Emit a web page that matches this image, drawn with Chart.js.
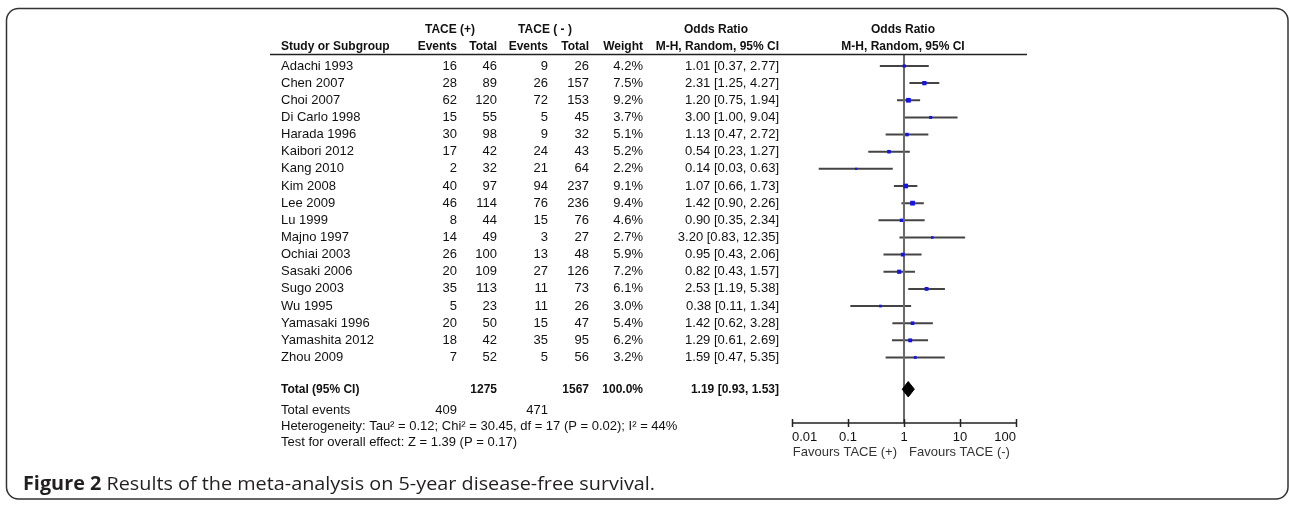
<!DOCTYPE html>
<html>
<head>
<meta charset="utf-8">
<title>Forest plot - 5-year disease-free survival</title>
<script src="https://cdn.jsdelivr.net/npm/chart.js@4.4.1/dist/chart.umd.min.js"></script>
<style>
  html, body { margin: 0; padding: 0; background: #fff; }
  canvas { display: block; }
</style>
</head>
<body>
<canvas id="forest" width="1289" height="505"></canvas>
<script>
// Study rows
const studies = ['Adachi 1993', 'Chen 2007', 'Choi 2007', 'Di Carlo 1998', 'Harada 1996', 'Kaibori 2012',
  'Kang 2010', 'Kim 2008', 'Lee 2009', 'Lu 1999', 'Majno 1997', 'Ochiai 2003', 'Sasaki 2006',
  'Sugo 2003', 'Wu 1995', 'Yamasaki 1996', 'Yamashita 2012', 'Zhou 2009'];
const eventsPlus = [16, 28, 62, 15, 30, 17, 2, 40, 46, 8, 14, 26, 20, 35, 5, 20, 18, 7];
const totalPlus = [46, 89, 120, 55, 98, 42, 32, 97, 114, 44, 49, 100, 109, 113, 23, 50, 42, 52];
const eventsMinus = [9, 26, 72, 5, 9, 24, 21, 94, 76, 15, 3, 13, 27, 11, 11, 15, 35, 5];
const totalMinus = [26, 157, 153, 45, 32, 43, 64, 237, 236, 76, 27, 48, 126, 73, 26, 47, 95, 56];
const weights = [4.2, 7.5, 9.2, 3.7, 5.1, 5.2, 2.2, 9.1, 9.4, 4.6, 2.7, 5.9, 7.2, 6.1, 3.0, 5.4, 6.2, 3.2];
const oddsRatio = [1.01, 2.31, 1.20, 3.00, 1.13, 0.54, 0.14, 1.07, 1.42, 0.90, 3.20, 0.95, 0.82, 2.53, 0.38, 1.42, 1.29, 1.59];
const ciLow = [0.37, 1.25, 0.75, 1.00, 0.47, 0.23, 0.03, 0.66, 0.90, 0.35, 0.83, 0.43, 0.43, 1.19, 0.11, 0.62, 0.61, 0.47];
const ciHigh = [2.77, 4.27, 1.94, 9.04, 2.72, 1.27, 0.63, 1.73, 2.26, 2.34, 12.35, 2.06, 1.57, 5.38, 1.34, 3.28, 2.69, 5.35];

// Pooled result
const pooledTotals = [1275, 1567];
const pooledEvents = [409, 471];
const pooledOR = [1.19, 0.93, 1.53];   // estimate, low, high
const pooledWeight = '100.0%';

// x axis ticks
const tickValues = [0.01, 0.1, 1, 10, 100];
const tickLabels = ['0.01', '0.1', '1', '10', '100'];

const heterogeneityText = 'Heterogeneity: Tau\u00b2 = 0.12; Chi\u00b2 = 30.45, df = 17 (P = 0.02); I\u00b2 = 44%';
const overallText = 'Test for overall effect: Z = 1.39 (P = 0.17)';

// layout (row index space of the y scale)
const TOTAL_ROW = 18.85;
const Y_MIN = -0.64, Y_MAX = 20.82;

const FONT = '"Liberation Sans", Arial, sans-serif';
const fmt = v => v.toFixed(2);

// columns: right edges
const COL = { study: 281, evP: 457, totP: 497, evM: 548, totM: 589, weight: 643, or: 779, orHead: 716, plotHead: 903 };

// CI segments, broken by null points
const ciSegments = [];
studies.forEach((s, i) => {
  ciSegments.push({ x: ciLow[i], y: i }, { x: ciHigh[i], y: i }, { x: null, y: null });
});

const diamond = [
  { x: pooledOR[1], y: TOTAL_ROW },
  { x: pooledOR[0], y: TOTAL_ROW - 0.45 },
  { x: pooledOR[2], y: TOTAL_ROW },
  { x: pooledOR[0], y: TOTAL_ROW + 0.45 },
  { x: pooledOR[1], y: TOTAL_ROW }
];

function txt(ctx, s, x, y, align, bold, size) {
  ctx.font = (bold ? 'bold ' : '') + (size || (bold ? 12 : 13)) + 'px ' + FONT;
  ctx.textAlign = align || 'left';
  ctx.fillText(s, x, y);
}

// Table, axis, frame and caption
const forestText = {
  id: 'forestText',
  afterDraw(chart) {
    const ctx = chart.ctx;
    const xs = chart.scales.x, ys = chart.scales.y;
    const area = chart.chartArea;
    ctx.save();
    ctx.fillStyle = '#111';
    ctx.textBaseline = 'middle';

    // headers
    txt(ctx, 'TACE (+)', 450, 30, 'center', true);
    txt(ctx, 'TACE ( - )', 545, 30, 'center', true);
    txt(ctx, 'Odds Ratio', COL.orHead, 30, 'center', true);
    txt(ctx, 'Odds Ratio', COL.plotHead, 30, 'center', true);
    txt(ctx, 'Study or Subgroup', COL.study, 47, 'left', true);
    txt(ctx, 'Events', COL.evP, 47, 'right', true);
    txt(ctx, 'Total', COL.totP, 47, 'right', true);
    txt(ctx, 'Events', COL.evM, 47, 'right', true);
    txt(ctx, 'Total', COL.totM, 47, 'right', true);
    txt(ctx, 'Weight', COL.weight, 47, 'right', true);
    txt(ctx, 'M-H, Random, 95% CI', COL.or, 47, 'right', true);
    txt(ctx, 'M-H, Random, 95% CI', COL.plotHead, 47, 'center', true);

    ctx.strokeStyle = '#222';
    ctx.lineWidth = 1.5;
    ctx.beginPath();
    ctx.moveTo(270, 54.5);
    ctx.lineTo(1027, 54.5);
    ctx.stroke();

    // study rows
    studies.forEach((s, i) => {
      const y = ys.getPixelForValue(i);
      txt(ctx, s, COL.study, y, 'left');
      txt(ctx, String(eventsPlus[i]), COL.evP, y, 'right');
      txt(ctx, String(totalPlus[i]), COL.totP, y, 'right');
      txt(ctx, String(eventsMinus[i]), COL.evM, y, 'right');
      txt(ctx, String(totalMinus[i]), COL.totM, y, 'right');
      txt(ctx, weights[i].toFixed(1) + '%', COL.weight, y, 'right');
      txt(ctx, fmt(oddsRatio[i]) + ' [' + fmt(ciLow[i]) + ', ' + fmt(ciHigh[i]) + ']', COL.or, y, 'right');
    });

    // pooled rows
    const ty = ys.getPixelForValue(TOTAL_ROW);
    txt(ctx, 'Total (95% CI)', COL.study, ty, 'left', true);
    txt(ctx, String(pooledTotals[0]), COL.totP, ty, 'right', true);
    txt(ctx, String(pooledTotals[1]), COL.totM, ty, 'right', true);
    txt(ctx, pooledWeight, COL.weight, ty, 'right', true);
    txt(ctx, fmt(pooledOR[0]) + ' [' + fmt(pooledOR[1]) + ', ' + fmt(pooledOR[2]) + ']', COL.or, ty, 'right', true);
    txt(ctx, 'Total events', COL.study, 410, 'left');
    txt(ctx, String(pooledEvents[0]), COL.evP, 410, 'right');
    txt(ctx, String(pooledEvents[1]), COL.evM, 410, 'right');
    txt(ctx, heterogeneityText, COL.study, 426.5, 'left');
    txt(ctx, overallText, COL.study, 442.5, 'left');

    // x axis
    const ay = area.bottom;
    ctx.strokeStyle = '#222';
    ctx.lineWidth = 1.5;
    ctx.beginPath();
    ctx.moveTo(xs.getPixelForValue(tickValues[0]), ay);
    ctx.lineTo(xs.getPixelForValue(tickValues[tickValues.length - 1]), ay);
    tickValues.forEach(v => {
      const px = Math.round(xs.getPixelForValue(v)) + 0.5;
      ctx.moveTo(px, ay - 4);
      ctx.lineTo(px, ay + 4);
    });
    ctx.stroke();
    tickValues.forEach((v, i) => {
      const align = i === 0 ? 'left' : (i === tickValues.length - 1 ? 'right' : 'center');
      txt(ctx, tickLabels[i], xs.getPixelForValue(v), ay + 14, align);
    });
    const one = xs.getPixelForValue(1);
    ctx.fillStyle = '#333';
    txt(ctx, 'Favours TACE (+)', one - 7, ay + 29, 'right');
    txt(ctx, 'Favours TACE (-)', one + 5, ay + 29, 'left');

    // frame
    ctx.strokeStyle = '#333';
    ctx.lineWidth = 1.5;
    ctx.beginPath();
    ctx.roundRect(6.5, 8.5, 1281.5, 490.5, 12);
    ctx.stroke();

    // caption
    ctx.fillStyle = '#231f20';
    ctx.textBaseline = 'alphabetic';
    ctx.textAlign = 'left';
    const boldPart = 'Figure 2';
    const restPart = ' Results of the meta-analysis on 5-year disease-free survival.';
    const capFont = '"Open Sans", "Noto Sans", sans-serif';
    ctx.font = 'bold 19px ' + capFont;
    const wB = ctx.measureText(boldPart).width;
    ctx.font = '19px ' + capFont;
    const wR = ctx.measureText(restPart).width;
    const sx = 632 / (wB + wR);
    ctx.translate(23, 490);
    ctx.scale(sx, 1);
    ctx.font = 'bold 19px ' + capFont;
    ctx.fillText(boldPart, 0, 0);
    ctx.font = '19px ' + capFont;
    ctx.fillText(restPart, wB, 0);
    ctx.restore();
  }
};

new Chart(document.getElementById('forest'), {
  type: 'scatter',
  data: {
    datasets: [
      {
        label: 'Odds ratio',
        data: oddsRatio.map((v, i) => ({ x: v, y: i })),
        pointStyle: 'rect',
        pointRadius: weights.map(w => 1.1 * Math.sqrt(w)),
        backgroundColor: '#1414e6',
        borderWidth: 0
      },
      {
        type: 'line',
        label: 'Pooled',
        data: diamond,
        fill: 'shape',
        backgroundColor: '#000',
        borderColor: '#000',
        borderWidth: 1,
        pointRadius: 0,
        tension: 0
      },
      {
        type: 'line',
        label: 'No effect',
        data: [{ x: 1, y: Y_MIN }, { x: 1, y: Y_MAX }],
        borderColor: '#6a6a6a',
        borderWidth: 2,
        pointRadius: 0
      },
      {
        type: 'line',
        label: '95% CI',
        data: ciSegments,
        borderColor: '#444',
        borderWidth: 2,
        pointRadius: 0,
        spanGaps: false
      }
    ]
  },
  options: {
    responsive: false,
    animation: false,
    devicePixelRatio: 1,
    events: [],
    layout: { padding: { left: 792, right: 273, top: 55, bottom: 82 } },
    scales: {
      x: { type: 'logarithmic', min: 0.01, max: 100, display: false },
      y: { type: 'linear', min: Y_MIN, max: Y_MAX, reverse: true, display: false }
    },
    plugins: { legend: { display: false }, tooltip: { enabled: false } }
  },
  plugins: [forestText]
});
</script>
</body>
</html>
